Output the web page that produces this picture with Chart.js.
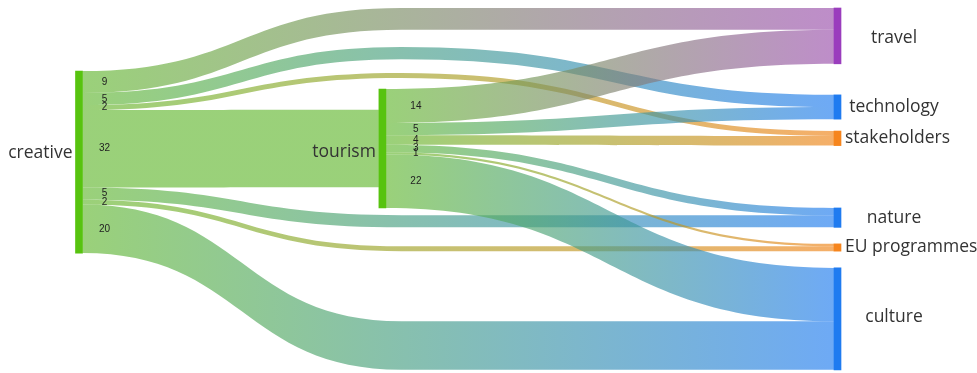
<!DOCTYPE html>
<html>
<head>
<meta charset="utf-8">
<script src="https://cdn.jsdelivr.net/npm/chart.js@4"></script>
<style>
  html, body { margin: 0; padding: 0; background: #fff; }
  #wrap { width: 977px; height: 373px; position: relative; }
</style>
</head>
<body>
<div id="wrap"><canvas id="sankey"></canvas></div>
<script>
// data
const nodeNames = ['creative', 'tourism', 'travel', 'technology', 'stakeholders', 'nature', 'EU programmes', 'culture'];
const flowFrom = ['creative', 'creative', 'creative', 'creative', 'creative', 'creative', 'creative',
                  'tourism', 'tourism', 'tourism', 'tourism', 'tourism', 'tourism'];
const flowTo = ['travel', 'technology', 'stakeholders', 'tourism', 'nature', 'EU programmes', 'culture',
                'travel', 'technology', 'stakeholders', 'nature', 'EU programmes', 'culture'];
const flowValues = [9, 5, 2, 32, 5, 2, 20, 14, 5, 4, 3, 1, 22];

// layout (value units on the y scale, fraction on the x scale)
const nodeColumn = { creative: 0, tourism: 0.4, travel: 1, technology: 1, stakeholders: 1, nature: 1, 'EU programmes': 1, culture: 1 };
const nodeTop = { creative: 26, tourism: 33.4, travel: 0, technology: 35.8, stakeholders: 50.7, nature: 82.4, 'EU programmes': 97.2, culture: 107.1 };
const viaColumn = 0.425;               // where column-skipping flows pass the middle column
const viaTop = { technology: 16.1, stakeholders: 26.8 };  // others pass at their target height
const labelDy = { creative: -9, tourism: 4, travel: 2, culture: -2 };

// styles
const nodeColors = {
  creative: '#57c30f', tourism: '#57c30f', travel: '#9a3dbd', technology: '#1f7bf0',
  stakeholders: '#f6851d', nature: '#1f7bf0', 'EU programmes': '#f6851d', culture: '#1f7bf0'
};
const flowColors = {
  creative: 'rgba(100,184,50,0.65)', tourism: 'rgba(100,184,50,0.65)', travel: 'rgba(155,80,172,0.65)',
  technology: 'rgba(32,124,240,0.65)', stakeholders: 'rgba(240,132,24,0.65)', nature: 'rgba(32,124,240,0.65)',
  'EU programmes': 'rgba(240,132,24,0.65)', culture: 'rgba(32,124,240,0.65)'
};
const NODE_W = 7;

// node sizes = max(in, out)
const inSum = {}, outSum = {};
nodeNames.forEach(n => { inSum[n] = 0; outSum[n] = 0; });
flowValues.forEach((v, i) => { outSum[flowFrom[i]] += v; inSum[flowTo[i]] += v; });
const nodeSize = {};
nodeNames.forEach(n => { nodeSize[n] = Math.max(inSum[n], outSum[n]); });

// place flows on source and target nodes (value units)
const flows = flowValues.map((v, i) => ({ from: flowFrom[i], to: flowTo[i], value: v }));
const outCursor = {};
nodeNames.forEach(n => { outCursor[n] = nodeTop[n] + (nodeSize[n] - outSum[n]) / 2; });
flows.forEach(f => { f.y0 = outCursor[f.from]; outCursor[f.from] += f.value; });
nodeNames.forEach(n => {
  const incoming = flows.filter(f => f.to === n).sort((a, b) => (a.y0 + a.value / 2) - (b.y0 + b.value / 2));
  let c = nodeTop[n] + (nodeSize[n] - inSum[n]) / 2;
  incoming.forEach(f => { f.y1 = c; c += f.value; });
});
flows.forEach(f => {
  f.skip = nodeColumn[f.to] - nodeColumn[f.from] > 0.7;
  f.yv = viaTop[f.to] !== undefined ? viaTop[f.to] : f.y1;
});

const sankeyPlugin = {
  id: 'sankeyFlows',
  beforeDatasetsDraw(chart) {
    const ctx = chart.ctx;
    const xs = chart.scales.x, ys = chart.scales.y;
    const xv = xs.getPixelForValue(viaColumn);
    ctx.save();
    flows.forEach(f => {
      const x0 = xs.getPixelForValue(nodeColumn[f.from]) + NODE_W / 2;
      const x1 = xs.getPixelForValue(nodeColumn[f.to]) - NODE_W / 2;
      const a0 = ys.getPixelForValue(f.y0), b0 = ys.getPixelForValue(f.y0 + f.value);
      const a1 = ys.getPixelForValue(f.y1), b1 = ys.getPixelForValue(f.y1 + f.value);
      const g = ctx.createLinearGradient(x0, 0, x1, 0);
      g.addColorStop(0, flowColors[f.from]);
      g.addColorStop(1, flowColors[f.to]);
      ctx.fillStyle = g;
      ctx.beginPath();
      ctx.moveTo(x0, a0);
      if (f.skip) {
        const av = ys.getPixelForValue(f.yv), bv = ys.getPixelForValue(f.yv + f.value);
        const m1 = (x0 + xv) / 2, m2 = (xv + x1) / 2;
        ctx.bezierCurveTo(m1, a0, m1, av, xv, av);
        ctx.bezierCurveTo(m2, av, m2, a1, x1, a1);
        ctx.lineTo(x1, b1);
        ctx.bezierCurveTo(m2, b1, m2, bv, xv, bv);
        ctx.bezierCurveTo(m1, bv, m1, b0, x0, b0);
      } else {
        const m = (x0 + x1) / 2;
        ctx.bezierCurveTo(m, a0, m, a1, x1, a1);
        ctx.lineTo(x1, b1);
        ctx.bezierCurveTo(m, b1, m, b0, x0, b0);
      }
      ctx.closePath();
      ctx.fill();
    });
    ctx.restore();
  },
  afterDatasetsDraw(chart) {
    const ctx = chart.ctx;
    const xs = chart.scales.x, ys = chart.scales.y;
    ctx.save();
    // flow values beside the source node
    ctx.font = '10px "Liberation Sans", Arial, sans-serif';
    ctx.fillStyle = '#222';
    ctx.textAlign = 'center';
    ctx.textBaseline = 'middle';
    flows.forEach(f => {
      const off = f.from === 'creative' ? 22 : 30;
      const x = xs.getPixelForValue(nodeColumn[f.from]) + NODE_W / 2 + off;
      const y = ys.getPixelForValue(f.y0 + f.value / 2);
      ctx.fillText(String(f.value), x, y);
    });
    // node names
    ctx.font = '17.5px "Open Sans", "Noto Sans", sans-serif';
    ctx.fillStyle = '#333';
    nodeNames.forEach(n => {
      const cx = xs.getPixelForValue(nodeColumn[n]);
      const y = ys.getPixelForValue(nodeTop[n] + nodeSize[n] / 2) + (labelDy[n] || 0);
      if (nodeColumn[n] < 1) {
        ctx.textAlign = 'right';
        ctx.fillText(n, cx - NODE_W / 2 - 3, y);
      } else {
        const w = ctx.measureText(n).width;
        const left = Math.max(cx + NODE_W / 2 + 4, 894 - w / 2);
        ctx.textAlign = 'left';
        ctx.fillText(n, left, y);
      }
    });
    ctx.restore();
  }
};

new Chart(document.getElementById('sankey'), {
  type: 'bar',
  data: {
    datasets: [{
      data: nodeNames.map(n => ({ x: nodeColumn[n], y: [nodeTop[n], nodeTop[n] + nodeSize[n]] })),
      backgroundColor: nodeNames.map(n => nodeColors[n]),
      borderWidth: 0,
      barThickness: NODE_W,
      clip: false
    }]
  },
  options: {
    responsive: true,
    maintainAspectRatio: false,
    animation: false,
    layout: { padding: { left: 79, right: 139.5, top: 8, bottom: 1 } },
    plugins: { legend: { display: false }, tooltip: { enabled: false } },
    scales: {
      x: { type: 'linear', min: 0, max: 1, offset: false, display: false },
      y: { type: 'linear', min: 0, max: 150, reverse: true, display: false }
    }
  },
  plugins: [sankeyPlugin]
});
</script>
</body>
</html>
